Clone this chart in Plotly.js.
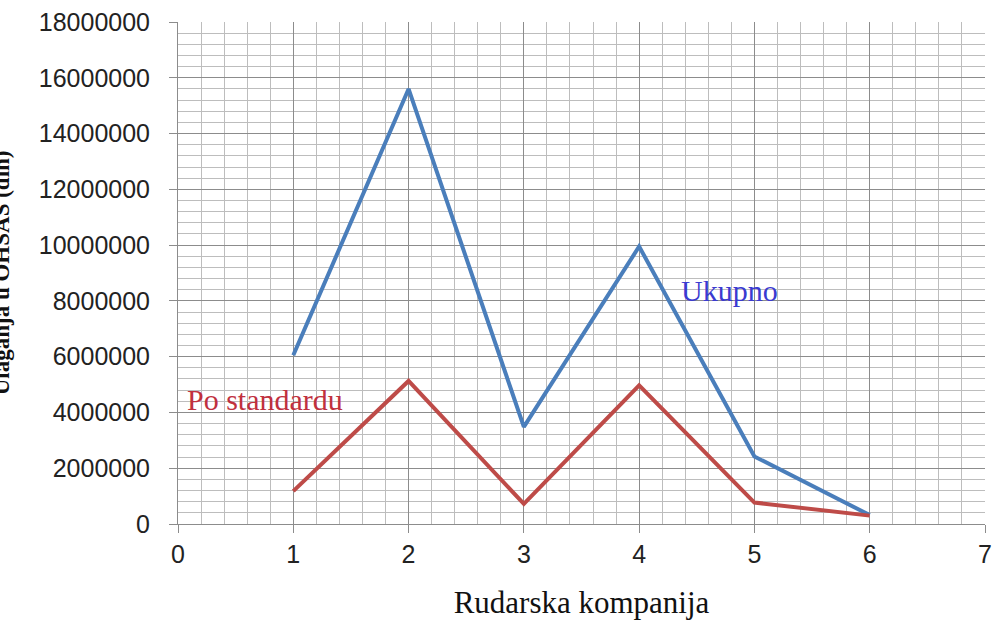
<!DOCTYPE html>
<html>
<head>
<meta charset="utf-8">
<script src="https://cdn.plot.ly/plotly-3.0.1.min.js"></script>
<style>html,body{margin:0;padding:0;background:#fff;}#chart{width:994px;height:621px;}</style>
</head>
<body>
<div id="chart"></div>
<script>
const companies = [1, 2, 3, 4, 5, 6];
const ukupno = [6050000, 15600000, 3480000, 9950000, 2420000, 320000];
const poStandardu = [1180000, 5130000, 720000, 4970000, 770000, 300000];
const seriesNames = ['Ukupno', 'Po standardu'];

const traces = [
  {x: companies, y: ukupno, name: seriesNames[0], mode: 'lines', line: {color: '#4a7ebb', width: 4}},
  {x: companies, y: poStandardu, name: seriesNames[1], mode: 'lines', line: {color: '#be4b48', width: 4}}
];

const layout = {
  width: 994, height: 621,
  margin: {l: 178, r: 9, t: 22, b: 97},
  paper_bgcolor: '#fff', plot_bgcolor: '#fff',
  showlegend: false,
  xaxis: {
    range: [0, 7], dtick: 1, tick0: 0,
    showgrid: true, gridcolor: '#8c8c8c', gridwidth: 1,
    minor: {dtick: 0.2, showgrid: true, gridcolor: '#bdbdbd', gridwidth: 1},
    showline: true, linecolor: '#8c8c8c', linewidth: 1,
    ticks: 'outside', ticklen: 8, tickcolor: '#8c8c8c',
    zeroline: false,
    tickfont: {family: 'Liberation Sans, Arial, sans-serif', size: 25, color: '#222'},
    title: {text: 'Rudarska kompanija', font: {family: 'Liberation Serif, Times New Roman, serif', size: 31, color: '#111'}, standoff: 24}
  },
  yaxis: {
    range: [0, 18000000], dtick: 2000000, tick0: 0,
    showgrid: true, gridcolor: '#8c8c8c', gridwidth: 1,
    minor: {dtick: 400000, showgrid: true, gridcolor: '#bdbdbd', gridwidth: 1},
    showline: true, linecolor: '#8c8c8c', linewidth: 1,
    ticks: 'outside', ticklen: 8, tickcolor: '#8c8c8c',
    zeroline: false,
    tickformat: 'd',
    tickfont: {family: 'Liberation Sans, Arial, sans-serif', size: 25, color: '#222'},
    ticklabelstandoff: 14
  },
  annotations: [
    {text: 'Ukupno', x: 4.35, y: 8390000, xref: 'x', yref: 'y', xanchor: 'left', yanchor: 'middle', showarrow: false,
     font: {family: 'Liberation Serif, Times New Roman, serif', size: 30, color: '#3a3ad0'}},
    {text: 'Po standardu', x: 0.06, y: 4450000, xref: 'x', yref: 'y', xanchor: 'left', yanchor: 'middle', showarrow: false,
     font: {family: 'Liberation Serif, Times New Roman, serif', size: 30, color: '#c0303e'}},
    {text: '<b>Ulaganja u OHSAS (din)</b>', x: -0.219, y: 0.5, xref: 'paper', yref: 'paper', xanchor: 'center', yanchor: 'middle',
     textangle: -90, showarrow: false,
     font: {family: 'Liberation Serif, Times New Roman, serif', size: 23, color: '#111'}}
  ]
};

Plotly.newPlot('chart', traces, layout, {displayModeBar: false, staticPlot: true});
</script>
</body>
</html>
